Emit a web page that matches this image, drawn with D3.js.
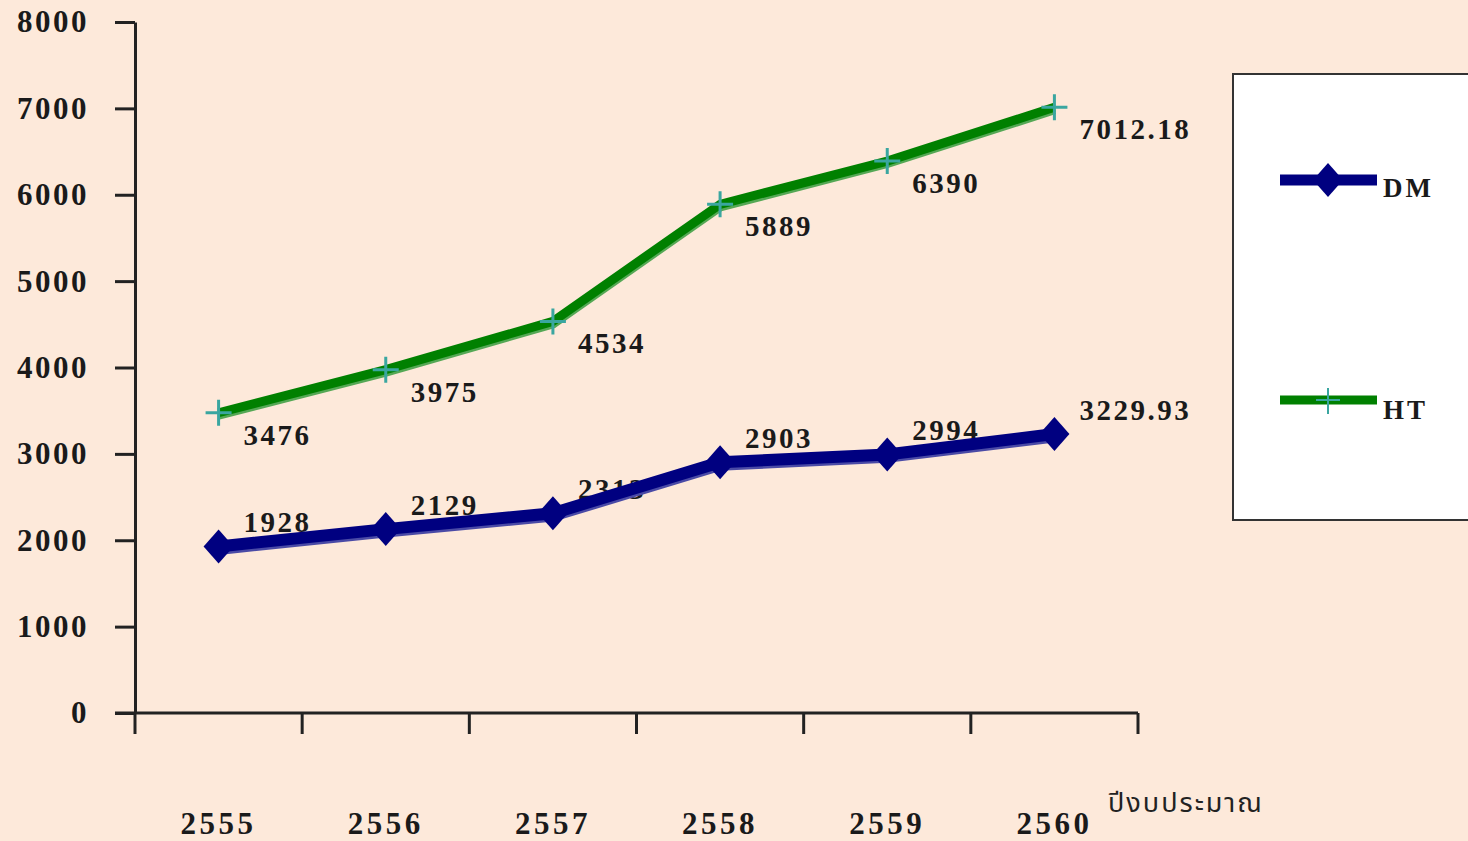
<!DOCTYPE html>
<html>
<head>
<meta charset="utf-8">
<style>
  body { margin: 0; background: #fde9da; }
  svg { display: block; }
  .lbl { font-family: "Liberation Serif", "DejaVu Serif", serif; font-weight: bold; fill: #1a1a1a; }
</style>
</head>
<body>
<svg width="1468" height="841"></svg>
<script src="https://cdnjs.cloudflare.com/ajax/libs/d3/7.8.5/d3.min.js"></script>
<script>
// data
var years = ["2555", "2556", "2557", "2558", "2559", "2560"];
var dmValues = [1928, 2129, 2313, 2903, 2994, 3229.93];
var htValues = [3476, 3975, 4534, 5889, 6390, 7012.18];
var dmLabels = ["1928", "2129", "2313", "2903", "2994", "3229.93"];
var htLabels = ["3476", "3975", "4534", "5889", "6390", "7012.18"];
var yTicks = [0, 1000, 2000, 3000, 4000, 5000, 6000, 7000, 8000];
var xTitle = "ปีงบประมาณ";

var svg = d3.select("svg");

var x = d3.scaleBand().domain(years).range([135, 1138]);
var y = d3.scaleLinear().domain([0, 8000]).range([713, 22]);
var cx = function(i) { return x(years[i]) + x.bandwidth() / 2; };

// y axis
var yAxis = svg.append("g")
    .attr("transform", "translate(135,0)")
    .call(d3.axisLeft(y).tickValues(yTicks).tickFormat(d3.format("d"))
      .tickSize(20).tickSizeOuter(0).tickPadding(26));
yAxis.attr("font-family", null).attr("font-size", null);
yAxis.select(".domain").attr("stroke", "#222").attr("stroke-width", 3);
yAxis.selectAll(".tick line").attr("stroke", "#222").attr("stroke-width", 3);
yAxis.selectAll(".tick text")
    .attr("class", "lbl")
    .attr("font-size", 31)
    .attr("letter-spacing", 2.5)
    .attr("fill", "#1a1a1a");

// x axis, ticks on band edges
var xg = svg.append("g");
xg.append("line")
    .attr("x1", 115).attr("x2", x.range()[1])
    .attr("y1", y(0)).attr("y2", y(0))
    .attr("stroke", "#222").attr("stroke-width", 3);
var edges = years.map(function(d) { return x(d); }).concat([x.range()[1]]);
xg.selectAll("line.tk").data(edges).enter().append("line")
    .attr("class", "tk")
    .attr("x1", function(d) { return d; }).attr("x2", function(d) { return d; })
    .attr("y1", y(0)).attr("y2", y(0) + 21)
    .attr("stroke", "#222").attr("stroke-width", 3);
xg.selectAll("text").data(years).enter().append("text")
    .attr("class", "lbl")
    .attr("x", function(d) { return x(d) + x.bandwidth() / 2; })
    .attr("y", 834)
    .attr("text-anchor", "middle")
    .attr("font-size", 31)
    .attr("letter-spacing", 3.5)
    .text(function(d) { return d; });
svg.append("text")
    .attr("x", 1108).attr("y", 812)
    .attr("font-family", "'Noto Sans Thai', 'Noto Serif Thai', 'Loma', 'Garuda', sans-serif")
    .attr("font-size", 27)
    .attr("letter-spacing", 2)
    .attr("fill", "#222")
    .text(xTitle);

// value labels (drawn under the lines)
svg.append("g").selectAll("text").data(htLabels).enter().append("text")
    .attr("class", "lbl")
    .attr("x", function(d, i) { return cx(i) + 25; })
    .attr("y", function(d, i) { return y(htValues[i]) + 32; })
    .attr("font-size", 29)
    .attr("letter-spacing", 2.5)
    .text(function(d) { return d; });
svg.append("g").selectAll("text").data(dmLabels).enter().append("text")
    .attr("class", "lbl")
    .attr("x", function(d, i) { return cx(i) + 25; })
    .attr("y", function(d, i) { return y(dmValues[i]) - 14; })
    .attr("font-size", 29)
    .attr("letter-spacing", 2.5)
    .text(function(d) { return d; });

var line = d3.line()
    .x(function(d, i) { return cx(i); })
    .y(function(d) { return y(d); });

// HT line
svg.append("path").datum(htValues)
    .attr("d", line).attr("transform", "translate(0,2)")
    .attr("fill", "none").attr("stroke", "#55a855").attr("stroke-width", 10);
svg.append("path").datum(htValues)
    .attr("d", line)
    .attr("fill", "none").attr("stroke", "#008000").attr("stroke-width", 9);
svg.append("g").selectAll("path").data(htValues).enter().append("path")
    .attr("d", function(d, i) {
      var px = cx(i), py = y(d);
      return "M" + (px - 13) + "," + py + "H" + (px + 13) + "M" + px + "," + (py - 13) + "V" + (py + 13);
    })
    .attr("stroke", "#3aa6a0").attr("stroke-width", 3);

// DM line
svg.append("path").datum(dmValues)
    .attr("d", line).attr("transform", "translate(0,2)")
    .attr("fill", "none").attr("stroke", "#4a4aa6").attr("stroke-width", 13);
svg.append("path").datum(dmValues)
    .attr("d", line)
    .attr("fill", "none").attr("stroke", "#000080").attr("stroke-width", 12);
var diamond = function(px, py, rx, ry) {
  return "M" + px + "," + (py - ry) + "L" + (px + rx) + "," + py + "L" + px + "," + (py + ry) + "L" + (px - rx) + "," + py + "Z";
};
svg.append("g").selectAll("path").data(dmValues).enter().append("path")
    .attr("d", function(d, i) { return diamond(cx(i), y(d), 15, 17); })
    .attr("fill", "#000080");

// legend
var lg = svg.append("g");
lg.append("rect")
    .attr("x", 1233).attr("y", 74).attr("width", 250).attr("height", 446)
    .attr("fill", "#fff").attr("stroke", "#333").attr("stroke-width", 2);
lg.append("line").attr("x1", 1280).attr("x2", 1377).attr("y1", 180).attr("y2", 180)
    .attr("stroke", "#000080").attr("stroke-width", 11);
lg.append("path").attr("d", diamond(1328, 180, 15, 17)).attr("fill", "#000080");
lg.append("text").attr("class", "lbl").attr("x", 1383).attr("y", 197)
    .attr("font-size", 27).attr("letter-spacing", 3).text("DM");
lg.append("line").attr("x1", 1280).attr("x2", 1377).attr("y1", 400).attr("y2", 400)
    .attr("stroke", "#008000").attr("stroke-width", 9);
lg.append("path").attr("d", "M1316,400H1340M1328,388V414")
    .attr("stroke", "#3aa6a0").attr("stroke-width", 2);
lg.append("text").attr("class", "lbl").attr("x", 1383).attr("y", 419)
    .attr("font-size", 27).attr("letter-spacing", 3).text("HT");
</script>
</body>
</html>
